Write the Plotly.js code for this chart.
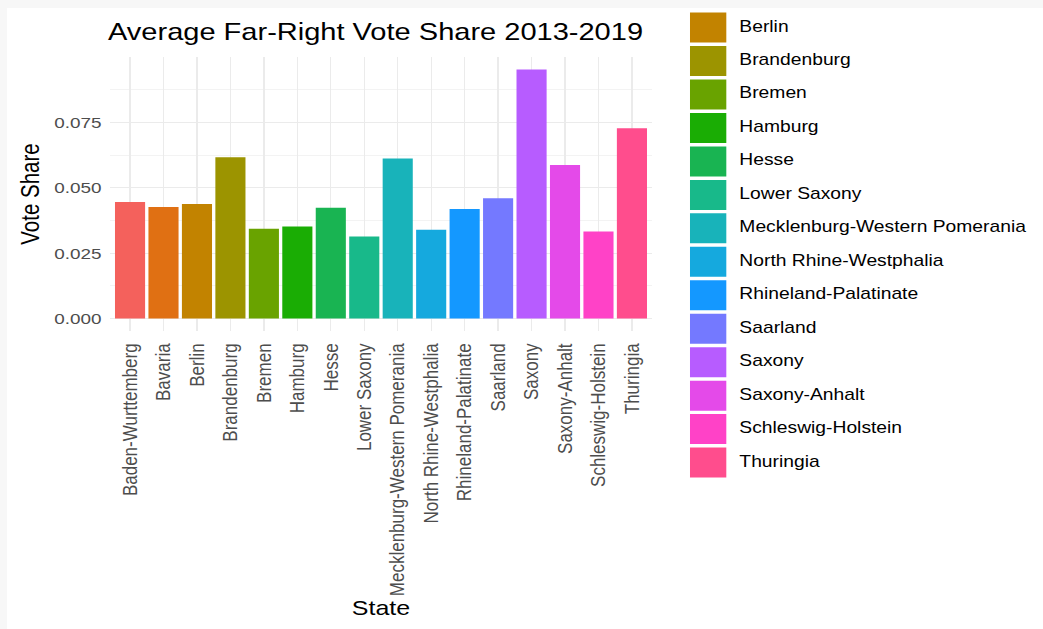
<!DOCTYPE html>
<html><head><meta charset="utf-8">
<script src="https://cdn.plot.ly/plotly-3.0.1.min.js"></script>
<style>
html,body{margin:0;padding:0;background:#f7f7f7;overflow:hidden;width:1043px;height:629px;}
#chart{position:absolute;left:7px;top:8px;width:849px;height:621px;transform:scaleX(1.22);transform-origin:0 0;background:#fff;}
</style></head><body><div id="chart"></div>
<script>
// ---- data ----
const states = ["Baden-Wurttemberg","Bavaria","Berlin","Brandenburg","Bremen","Hamburg","Hesse","Lower Saxony","Mecklenburg-Western Pomerania","North Rhine-Westphalia","Rhineland-Palatinate","Saarland","Saxony","Saxony-Anhalt","Schleswig-Holstein","Thuringia"];
const voteShare = [0.0446,0.0427,0.0438,0.0617,0.0344,0.0352,0.0424,0.0314,0.0612,0.0340,0.0419,0.0460,0.0953,0.0587,0.0333,0.0728];
const stateColors = ["#F4615C","#E07013","#C28300","#9C9400","#69A300","#1AAD04","#19B452","#18B98A","#18B3BA","#15A9DE","#1498FF","#7479FF","#B75CFF","#E44AE9","#FF42C7","#FF4D8D"];
const yTickVals = [0, 0.025, 0.05, 0.075];
const yTickText = ["0.000", "0.025", "0.050", "0.075"];
const yMinorVals = [0.0125, 0.0375, 0.0625, 0.0875];

// ---- layout constants ----
const W = 849, H = 621;
const FONT = 'Liberation Sans, Arial, Helvetica, sans-serif';
const panel = {left: 84.4, right: 528.7, top: 49, bottom: 323};
// legend: the reference image crops the top of the legend, so the first two entries fall outside the frame
const leg = {left: 559.8, keyX: 14.8, textX: 40.5, pitch: 33.46, firstVisible: 2, firstCenter: 19.6, keySize: 30, clipTop: 1.8};
const n = states.length;
const maxV = Math.max(...voteShare);
const legTop = leg.firstVisible - (leg.firstCenter - leg.clipTop) / leg.pitch;
const legBottom = legTop + (H - leg.clipTop) / leg.pitch;
const legIdx = states.map((_, i) => i);
const legLabels = states.map((s, i) => (i >= legTop ? s : ""));

const bars = {type:'bar', x: states, y: voteShare, marker:{color: stateColors, line:{width:0}},
  xaxis:'x', yaxis:'y', showlegend:false};
const legKeys = {type:'scatter', mode:'markers', x: states.map(() => leg.keyX), y: legIdx,
  marker:{symbol:'square', size: leg.keySize, color: stateColors, line:{width:0}},
  xaxis:'x2', yaxis:'y2', showlegend:false, hoverinfo:'skip', cliponaxis:true};
const legText = {type:'scatter', mode:'text', x: states.map(() => leg.textX), y: legIdx,
  text: legLabels, textposition:'middle right', textfont:{family:FONT, size:15.8, color:'#000'},
  xaxis:'x2', yaxis:'y2', showlegend:false, hoverinfo:'skip', cliponaxis:true};

const grid = '#EBEBEB';
const layout = {
  width: W, height: H,
  margin: {l:0, r:0, t:0, b:0, autoexpand:false},
  paper_bgcolor:'#fff', plot_bgcolor:'#fff',
  font: {family: FONT},
  bargap: 0.1,
  title: {text:'Average Far-Right Vote Share 2013-2019', xref:'container', x: 82.8/W, xanchor:'left',
    yref:'container', y: 1 - 23.7/H, yanchor:'middle', font:{family:FONT, size:23.8, color:'#000'}},
  xaxis: {domain:[panel.left/W, panel.right/W], anchor:'y', type:'category', range:[-0.6, n-0.4],
    showgrid:true, gridcolor:grid, gridwidth:1.1, zeroline:false, showline:false, ticks:'',
    tickangle:-90, tickfont:{family:FONT, size:17, color:'#4D4D4D'}, ticklabelstandoff:8, automargin:false,
    title:{text:'State', font:{family:FONT, size:20.5, color:'#000'}, standoff:2}, fixedrange:true},
  yaxis: {domain:[(H-panel.bottom)/H, (H-panel.top)/H], anchor:'x', range:[-0.05*maxV, 1.05*maxV],
    tickmode:'array', tickvals:yTickVals, ticktext:yTickText,
    showgrid:true, gridcolor:grid, gridwidth:1.1, zeroline:false, showline:false, ticks:'',
    minor:{tickmode:'array', tickvals:yMinorVals, showgrid:true, gridcolor:grid, gridwidth:0.55},
    tickfont:{family:FONT, size:15.5, color:'#4D4D4D'}, ticklabelstandoff:6, automargin:false,
    title:{text:'Vote Share', font:{family:FONT, size:20.5, color:'#000'}, standoff:6}, fixedrange:true},
  xaxis2: {domain:[leg.left/W, 1], anchor:'y2', range:[0, W-leg.left], visible:false, fixedrange:true},
  yaxis2: {domain:[0, (H-leg.clipTop)/H], anchor:'x2', range:[legBottom, legTop], visible:false, fixedrange:true}
};
Plotly.newPlot('chart', [bars, legKeys, legText], layout, {displayModeBar:false, staticPlot:true});
</script></body></html>
